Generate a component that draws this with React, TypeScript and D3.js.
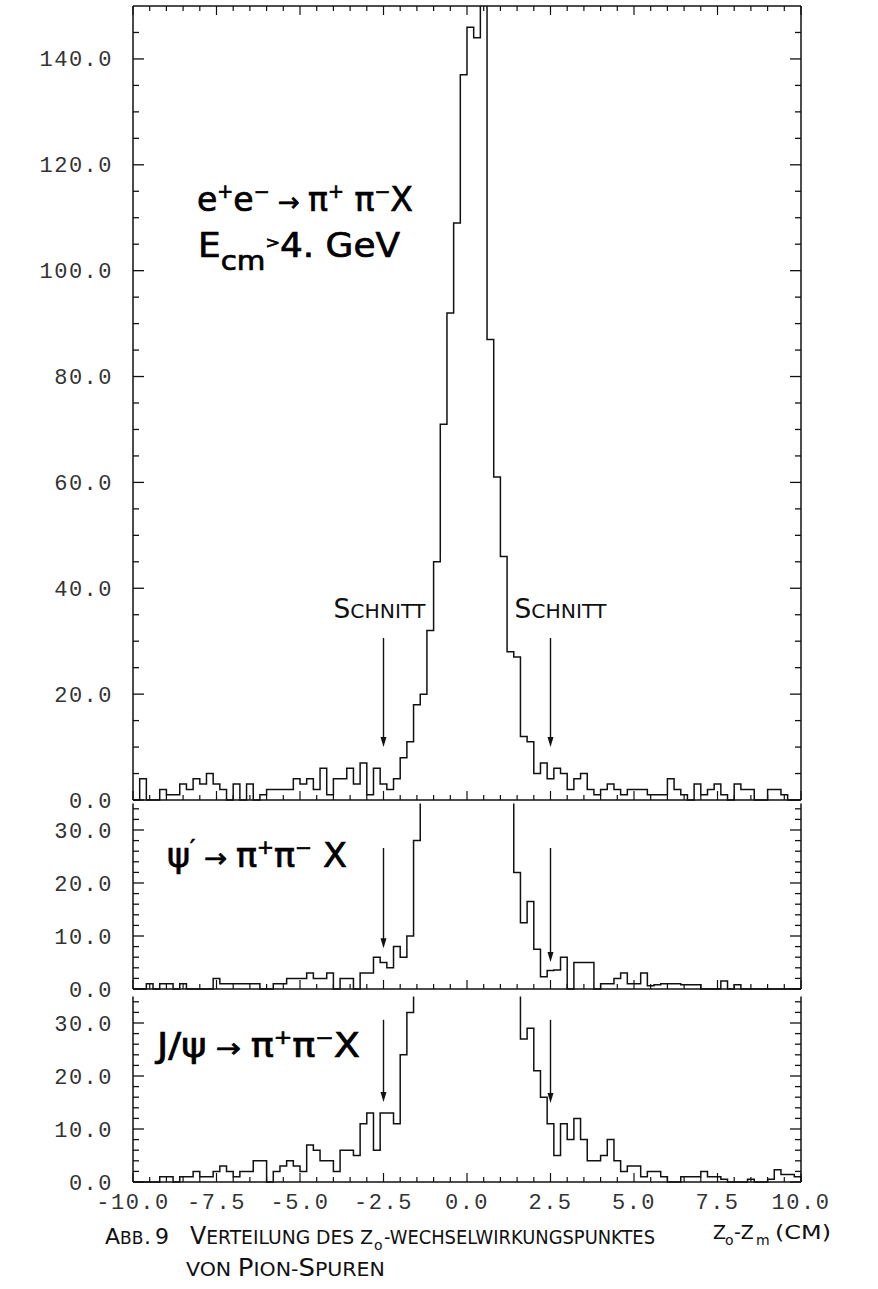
import React from "react";
import * as d3 from "d3";

// ---------- data ----------
const X_MIN = -10;
const X_MAX = 10;
const BIN_WIDTH = 0.2;
// bins whose content runs off the top of the frame
const C = 1000;

// e+e- -> pi+ pi- X, Ecm > 4 GeV (100 bins of 0.2 cm)
const allTracksCounts = [
  0, 4, 0, 0, 2, 1, 1, 3, 2, 4,
  3, 5, 3, 2, 0, 3, 0, 3, 0, 1,
  2, 2, 2, 2, 4, 3, 4, 2, 6, 1,
  4, 4, 6, 3, 7, 1, 6, 3, 2, 4,
  8, 11, 18, 20, 32, 45, 71, 92, 109, 137,
  146, 144, C, 87, 61, 46, 28, 27, 12, 11,
  5, 7, 4, 6, 5, 2, 4, 5, 2, 1,
  2, 3, 2, 1, 2, 2, 2, 1, 1, 1,
  4, 2, 1, 0, 3, 1, 2, 3, 1, 0,
  3, 2, 2, 0, 0, 2, 2, 1, 0, 0,
];

// psi' -> pi+ pi- X
const psiPrimeCounts = [
  0, 0, 1, 0, 1, 1, 0, 1, 0, 0,
  0, 0, 2, 1, 1, 1, 1, 1, 1, 0,
  0, 1, 1, 2, 2, 2, 3, 2, 2, 3,
  0, 2, 2, 0, 3, 3, 6, 5, 4, 8,
  6, 10, 28, C, C, C, C, C, C, C,
  C, C, C, C, C, C, C, 22, 12.5, 16.5,
  7.5, 2.3, 3.5, 3.6, 6, 0, 5, 5, 5, 0,
  1, 1, 2, 3, 1, 1, 3, 0.6, 0.8, 1,
  1, 1, 0.8, 0.8, 0.8, 0, 0, 0, 1.5, 0,
  0.8, 0, 0, 0, 0, 0, 0, 0, 0, 0,
];

// J/psi -> pi+ pi- X
const jpsiCounts = [
  0, 0, 0, 0, 1, 1, 0, 1, 1, 2,
  1, 1, 2, 3, 2, 1, 2, 2, 4, 4,
  0, 2, 3, 4, 3, 2, 7, 6, 4, 4,
  2, 6, 6, 5, 11, 13, 6, 13, 13, 11,
  24, 32, C, C, C, C, C, C, C, C,
  C, C, C, C, C, C, C, C, 27, 29,
  21, 16, 11, 5, 11, 8, 12, 8, 4, 4,
  5, 8, 4, 2, 3, 3, 1, 2, 2, 1,
  0, 0, 1, 1, 1, 2, 1, 1, 0.5, 0,
  0, 0, 0.5, 0, 0, 0.5, 2.3, 1.4, 1.4, 1,
];

const xTickValues = [-10, -7.5, -5, -2.5, 0, 2.5, 5, 7.5, 10];
const xTickLabels = ["-10.0", "-7.5", "-5.0", "-2.5", "0.0", "2.5", "5.0", "7.5", "10.0"];
const topYLabels = [0, 20, 40, 60, 80, 100, 120, 140];
const lowYLabels = [0, 10, 20, 30];
const cutPositions = [-2.5, 2.5];

// ---------- layout ----------
const W = 878;
const H = 1289;
const LEFT = 133;
const RIGHT = 801;
const LABEL_FONT = "'Liberation Mono', 'DejaVu Sans Mono', monospace";
const TEXT_FONT = "'DejaVu Sans', 'Liberation Sans', sans-serif";
const INK = "#111";

const panels = [
  { key: "all", counts: allTracksCounts, yMax: 150, top: 6, bottom: 800, minor: 5, major: 20, labels: topYLabels, fullFrame: true, arrowFrom: 30.6, arrowTips: [10, 10] },
  { key: "psi2s", counts: psiPrimeCounts, yMax: 35, top: 803.5, bottom: 989, minor: 2, major: 10, labels: lowYLabels, fullFrame: false, arrowFrom: 26.6, arrowTips: [7.7, 5.1] },
  { key: "jpsi", counts: jpsiCounts, yMax: 35, top: 996.5, bottom: 1182, minor: 2, major: 10, labels: lowYLabels, fullFrame: false, arrowFrom: 30.6, arrowTips: [15.1, 14.9] },
];

const x = d3.scaleLinear().domain([X_MIN, X_MAX]).range([LEFT, RIGHT]);
const fmt = d3.format(".1f");

// step outline; bins that run off scale get only their vertical edges
function stepPath(counts: number[], y: d3.ScaleLinear<number, number>, yMax: number) {
  const p = d3.path();
  p.moveTo(x(X_MIN), y(0));
  counts.forEach((c, i) => {
    const x0 = x(X_MIN + i * BIN_WIDTH);
    const x1 = x(X_MIN + (i + 1) * BIN_WIDTH);
    const yc = y(c);
    p.lineTo(x0, yc);
    if (c >= yMax) p.moveTo(x1, yc);
    else p.lineTo(x1, yc);
  });
  p.lineTo(x(X_MAX), y(0));
  return p.toString();
}

function Panel({ p }: { p: (typeof panels)[number] }) {
  const y = d3.scaleLinear().domain([0, p.yMax]).range([p.bottom, p.top]).clamp(true);
  const yTicks = d3.range(0, p.yMax, p.minor);
  const xTicks = d3.range(0, 41).map((i) => X_MIN + i * 0.5);
  return (
    <g>
      {/* frame */}
      <line x1={LEFT} x2={LEFT} y1={p.top} y2={p.bottom} stroke={INK} strokeWidth={1.5} />
      <line x1={RIGHT} x2={RIGHT} y1={p.top} y2={p.bottom} stroke={INK} strokeWidth={1.5} />
      <line x1={LEFT} x2={RIGHT} y1={p.bottom} y2={p.bottom} stroke={INK} strokeWidth={1.6} />
      {p.fullFrame && <line x1={LEFT} x2={RIGHT} y1={p.top} y2={p.top} stroke={INK} strokeWidth={1.6} />}
      {/* y ticks, both sides */}
      {yTicks.map((v) => {
        const len = v % p.major === 0 ? 11 : 6;
        return (
          <g key={"y" + v}>
            <line x1={LEFT} x2={LEFT + len} y1={y(v)} y2={y(v)} stroke={INK} strokeWidth={1.3} />
            <line x1={RIGHT} x2={RIGHT - len} y1={y(v)} y2={y(v)} stroke={INK} strokeWidth={1.3} />
          </g>
        );
      })}
      {/* x ticks */}
      {xTicks.map((v, i) => {
        const len = i % 5 === 0 ? 9 : 5;
        return (
          <g key={"x" + i}>
            <line x1={x(v)} x2={x(v)} y1={p.bottom} y2={p.bottom - len} stroke={INK} strokeWidth={1.2} />
            {p.fullFrame && <line x1={x(v)} x2={x(v)} y1={p.top} y2={p.top + len} stroke={INK} strokeWidth={1.2} />}
          </g>
        );
      })}
      {/* y labels */}
      {p.labels.map((v) => (
        <text key={"l" + v} x={113} y={y(v) + 7.5} textAnchor="end" fontFamily={LABEL_FONT} fontSize={22} letterSpacing={1.5} fill="#333">
          {fmt(v)}
        </text>
      ))}
      {/* histogram */}
      <path d={stepPath(p.counts, y, p.yMax)} fill="none" stroke={INK} strokeWidth={1.5} />
      {/* cut arrows */}
      {cutPositions.map((c, i) => {
        const xs = x(c);
        const y0 = y(p.arrowFrom);
        const yt = y(p.arrowTips[i]);
        return (
          <g key={"a" + i}>
            <line x1={xs} x2={xs} y1={y0} y2={yt - 6} stroke={INK} strokeWidth={1.4} />
            <path d={`M${xs - 3},${yt - 10} L${xs + 3},${yt - 10} L${xs},${yt} Z`} fill={INK} />
          </g>
        );
      })}
    </g>
  );
}

export default function App() {
  const yTop = d3.scaleLinear().domain([0, 150]).range([800, 6]);
  return (
    <svg width={W} height={H} style={{ position: "absolute", left: 0, top: 0, background: "#fff" }}>
      <rect x={0} y={0} width={W} height={H} fill="#fff" />
      {panels.map((p) => (
        <Panel key={p.key} p={p} />
      ))}

      {/* x tick labels */}
      {xTickValues.map((v, i) => (
        <text key={"xl" + i} x={x(v)} y={1209} textAnchor="middle" fontFamily={LABEL_FONT} fontSize={22} letterSpacing={1.5} fill="#333">
          {xTickLabels[i]}
        </text>
      ))}

      {/* SCHNITT labels */}
      <text x={x(cutPositions[0]) - 4} y={yTop(34.4)} textAnchor="middle" fontFamily={TEXT_FONT} fontSize={26} fill={INK} textLength={92} lengthAdjust="spacingAndGlyphs">
        S<tspan fontSize={20}>CHNITT</tspan>
      </text>
      <text x={x(cutPositions[1]) + 10} y={yTop(34.4)} textAnchor="middle" fontFamily={TEXT_FONT} fontSize={26} fill={INK} textLength={92} lengthAdjust="spacingAndGlyphs">
        S<tspan fontSize={20}>CHNITT</tspan>
      </text>

      {/* panel titles */}
      <g fontFamily={TEXT_FONT} fill="#000" stroke="#000" strokeWidth={0.7}>
        <text x={197} y={211} fontSize={33} textLength={216} lengthAdjust="spacingAndGlyphs">
          e<tspan dy={-13} fontSize={19}>+</tspan>
          <tspan dy={13}>e</tspan>
          <tspan dy={-13} fontSize={19}>−</tspan>
          <tspan dy={13} fontSize={26}> → </tspan>
          <tspan>π</tspan>
          <tspan dy={-13} fontSize={19}>+</tspan>
          <tspan dy={13}> π</tspan>
          <tspan dy={-13} fontSize={19}>−</tspan>
          <tspan dy={13}>X</tspan>
        </text>
        <text x={198} y={257} fontSize={33} textLength={202} lengthAdjust="spacingAndGlyphs">
          E<tspan dy={13} fontSize={27}>cm</tspan>
          <tspan dy={-22} fontSize={16}>&gt;</tspan>
          <tspan dy={9}>4. GeV</tspan>
        </text>
        <text x={167} y={867} fontSize={33} textLength={180} lengthAdjust="spacingAndGlyphs">
          ψ<tspan dy={-12} fontSize={22}>′</tspan>
          <tspan dy={12} fontSize={26}> → </tspan>
          <tspan>π</tspan>
          <tspan dy={-13} fontSize={19}>+</tspan>
          <tspan dy={13}>π</tspan>
          <tspan dy={-13} fontSize={19}>−</tspan>
          <tspan dy={13}> X</tspan>
        </text>
        <text x={157} y={1057} fontSize={33} textLength={203} lengthAdjust="spacingAndGlyphs">
          J/ψ<tspan fontSize={26}> → </tspan>
          <tspan>π</tspan>
          <tspan dy={-13} fontSize={19}>+</tspan>
          <tspan dy={13}>π</tspan>
          <tspan dy={-13} fontSize={19}>−</tspan>
          <tspan dy={13}>X</tspan>
        </text>
      </g>

      {/* caption */}
      <g fontFamily={TEXT_FONT} fill="#111">
        <text x={105} y={1244} fontSize={22}>A</text>
        <text x={120} y={1244} fontSize={17}>BB</text>
        <text x={144} y={1244} fontSize={22}>.</text>
        <text x={155} y={1244} fontSize={22}>9</text>
        <text x={190} y={1244} fontSize={24} textLength={183} lengthAdjust="spacingAndGlyphs">
          V<tspan fontSize={19}>ERTEILUNG DES Z</tspan>
        </text>
        <text x={374} y={1250} fontSize={14}>o</text>
        <text x={384} y={1244} fontSize={19} textLength={271} lengthAdjust="spacingAndGlyphs">
          -WECHSELWIRKUNGSPUNKTES
        </text>
        <text x={713} y={1239} fontSize={19}>Z</text>
        <text x={725} y={1245} fontSize={14}>o</text>
        <text x={734} y={1239} fontSize={19}>-Z</text>
        <text x={756} y={1245} fontSize={14}>m</text>
        <text x={775} y={1239} fontSize={19} textLength={56} lengthAdjust="spacingAndGlyphs">(CM)</text>
        <text x={186} y={1276} fontSize={24} textLength={199} lengthAdjust="spacingAndGlyphs">
          <tspan fontSize={19}>VON </tspan>P<tspan fontSize={19}>ION-</tspan>S<tspan fontSize={19}>PUREN</tspan>
        </text>
      </g>
    </svg>
  );
}
